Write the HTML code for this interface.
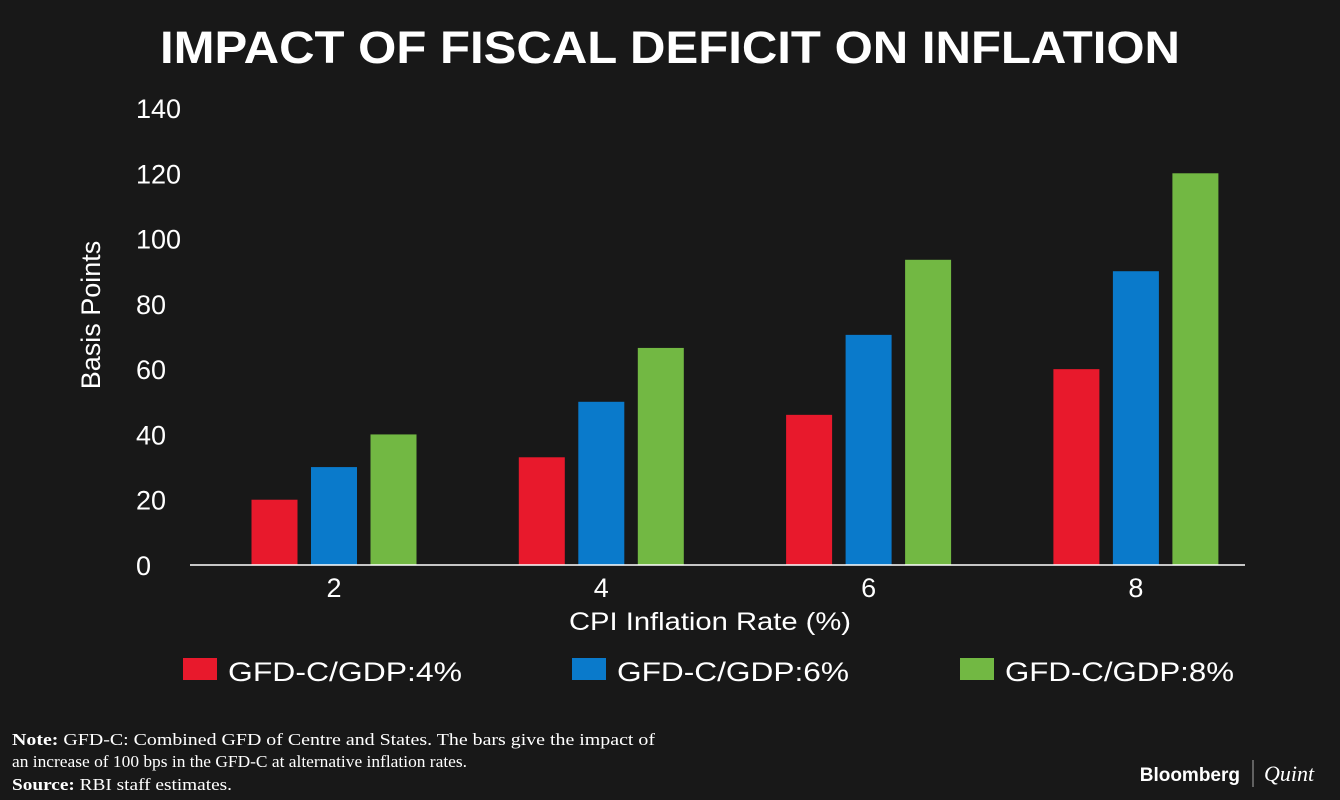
<!DOCTYPE html>
<html><head><meta charset="utf-8"><style>
html,body{margin:0;padding:0;background:#181818;}
svg{display:block;font-family:"Liberation Sans",sans-serif;}
</style></head><body>
<svg id="chart" width="1340" height="800" viewBox="0 0 1340 800">
<rect width="1340" height="800" fill="#181818"/>
<text x="670" y="63" text-anchor="middle" fill="#fff" font-size="45" font-weight="bold" textLength="1020" lengthAdjust="spacingAndGlyphs">IMPACT OF FISCAL DEFICIT ON INFLATION</text>
<g id="yticks"></g>
<g id="bars"></g>
<g id="xticks"></g>
<line x1="190" y1="565" x2="1245" y2="565" stroke="#fff" stroke-width="1.5"/>
<text transform="translate(100,315) rotate(-90)" text-anchor="middle" fill="#fff" font-size="27">Basis Points</text>
<text x="710" y="630" text-anchor="middle" fill="#fff" font-size="25" textLength="282" lengthAdjust="spacingAndGlyphs">CPI Inflation Rate (%)</text>
<g id="legend"></g>
<g font-family="'Liberation Serif',serif" font-size="17" fill="#fff">
<text x="12" y="745" textLength="643" lengthAdjust="spacingAndGlyphs"><tspan font-weight="bold">Note:</tspan> GFD-C: Combined GFD of Centre and States. The bars give the impact of</text>
<text x="12" y="767" textLength="455" lengthAdjust="spacingAndGlyphs">an increase of 100 bps in the GFD-C at alternative inflation rates.</text>
<text x="12" y="790" textLength="220" lengthAdjust="spacingAndGlyphs"><tspan font-weight="bold">Source:</tspan> RBI staff estimates.</text>
</g>
<text x="1240" y="781" text-anchor="end" fill="#fff" font-size="19" font-weight="bold">Bloomberg</text>
<line x1="1253" y1="760" x2="1253" y2="787" stroke="#aaa" stroke-width="1"/>
<text x="1264" y="781" fill="#fff" font-size="22" font-style="italic" font-family="'Liberation Serif',serif">Quint</text>
</svg>
<script>
const categories = ["2","4","6","8"];
const seriesNames = ["GFD-C/GDP:4%","GFD-C/GDP:6%","GFD-C/GDP:8%"];
const series4 = [20,33,46,60];
const series6 = [30,50,70.5,90];
const series8 = [40,66.5,93.5,120];
const yTicks = [0,20,40,60,80,100,120,140];
const colors = ["#e8192c","#0a7acb","#72b843"];
const NS="http://www.w3.org/2000/svg";
function y(v){return 565 - v*(457/140);}
function xc(i){return 334 + i*267.3;}
function mk(tag,attrs,parent){const e=document.createElementNS(NS,tag);for(const k in attrs)e.setAttribute(k,attrs[k]);parent.appendChild(e);return e;}
const yg=document.getElementById('yticks');
yTicks.forEach(t=>{const e=mk('text',{x:136,y:y(t)+10,fill:'#fff','font-size':27},yg);e.textContent=t;

});
const bg=document.getElementById('bars');
const all=[series4,series6,series8];
all.forEach((s,si)=>{s.forEach((v,i)=>{const cx=xc(i)+(si-1)*59.5;
const r=mk('rect',{x:cx-23,y:y(v),width:46,height:565-y(v),fill:colors[si]},bg);

});});
const xg=document.getElementById('xticks');
categories.forEach((c,i)=>{const e=mk('text',{x:xc(i),y:597,'text-anchor':'middle',fill:'#fff','font-size':27},xg);e.textContent=c;

});
const lg=document.getElementById('legend');
const lx=[183,572,960];
const lw=[234,232,229];
seriesNames.forEach((n,i)=>{const g=mk('g',{},lg);


mk('rect',{x:lx[i],y:658,width:34,height:22,fill:colors[i]},g);
const t=mk('text',{x:lx[i]+45,y:681,fill:'#fff','font-size':27,textLength:lw[i],lengthAdjust:'spacingAndGlyphs'},g);t.textContent=n;});
</script>
</body></html>
